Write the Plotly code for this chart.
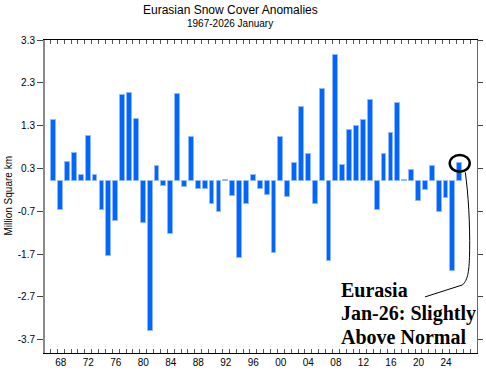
import plotly.graph_objects as go

years = list(range(1967, 2027))
anomalies = [1.43, -0.66, 0.46, 0.66, 0.14, 1.05, 0.14, -0.68, -1.74, -0.93,
             2.02, 2.06, 1.46, -0.98, -3.50, 0.35, -0.10, -1.22, 2.05, -0.14,
             1.04, -0.17, -0.17, -0.52, -0.72, 0.02, -0.34, -1.78, -0.52, 0.14,
             -0.18, -0.32, -1.68, 1.04, -0.36, 0.42, 1.74, 0.63, -0.54, 2.16,
             -1.86, 2.95, 0.38, 1.20, 1.28, 1.44, 1.91, -0.66, 0.64, 1.12,
             1.82, 0.02, 0.26, -0.46, -0.20, 0.35, -0.72, -0.40, -2.09, 0.42]
y_ticks = [-3.7, -2.7, -1.7, -0.7, 0.3, 1.3, 2.3, 3.3]
x_label_years = list(range(1968, 2025, 4))
x_labels = [f"{y % 100:02d}" for y in x_label_years]
minor_ticks = [y + 0.5 for y in range(1966, 2028)]

XR = [1965.72, 2028.51]
YR = [-4.01, 3.3]
FONT = "Liberation Sans, Arial, sans-serif"

fig = go.Figure()
fig.add_trace(go.Bar(x=years, y=anomalies, width=0.7,
                     marker=dict(color="#0066FF", line=dict(color="#8FB8FF", width=1)),
                     showlegend=False, hoverinfo="x+y"))
# helper invisible trace for mirrored axes
fig.add_trace(go.Scatter(x=[years[0]], y=[anomalies[0]], xaxis="x2", yaxis="y2",
                         mode="markers", marker=dict(opacity=0), showlegend=False,
                         hoverinfo="skip"))

fig.update_layout(
    width=486, height=372,
    margin=dict(l=45, r=9, t=40, b=19, autoexpand=False),
    paper_bgcolor="white", plot_bgcolor="white",
    font=dict(family=FONT, size=10, color="#000"),
    bargap=0,
    xaxis=dict(range=XR, tickvals=x_label_years, ticktext=x_labels, ticks="",
               automargin=False,
               showgrid=False, zeroline=False, showline=True, linecolor="#000", linewidth=1,
               minor=dict(tickvals=minor_ticks, ticks="inside", ticklen=4, tickcolor="#555",
                          tickwidth=1, showgrid=False),
               tickfont=dict(size=10, family=FONT, color="#000")),
    xaxis2=dict(range=XR, overlaying="x", side="top", matches="x", tickvals=minor_ticks,
                automargin=False,
                ticks="inside", ticklen=4, tickcolor="#555", showticklabels=False,
                showgrid=False, zeroline=False, showline=True, linecolor="#000", linewidth=1),
    yaxis=dict(range=YR, tickvals=y_ticks, ticktext=[f"{v:.1f}" for v in y_ticks],
               automargin=False,
               ticks="outside", ticklen=6, tickcolor="#444", showgrid=False, zeroline=False,
               showline=True, linecolor="#8a8a8a", linewidth=2,
               tickfont=dict(size=10, family=FONT, color="#000")),
    yaxis2=dict(range=YR, overlaying="y", side="right", matches="y", tickvals=y_ticks,
                automargin=False,
                ticks="outside", ticklen=5, tickcolor="#444", showticklabels=False,
                showgrid=False, zeroline=False, showline=True, linecolor="#666", linewidth=1),
)

PW, PH = 432, 313
# Titles
fig.add_annotation(text="Eurasian Snow Cover Anomalies", xref="paper", yref="paper",
                   x=(230 - 45) / PW, y=1 + (40 - 10) / PH, xanchor="center", yanchor="middle",
                   showarrow=False, font=dict(size=12, family=FONT, color="#000"))
fig.add_annotation(text="1967-2026 January", xref="paper", yref="paper",
                   x=(230 - 45) / PW, y=1 + (40 - 23) / PH, xanchor="center", yanchor="middle",
                   showarrow=False, font=dict(size=10, family=FONT, color="#000"))
# Y axis title
fig.add_annotation(text="Million Square km", xref="paper", yref="paper",
                   x=(8 - 45) / PW, y=0.5, xanchor="center", yanchor="middle",
                   textangle=-90, showarrow=False, font=dict(size=10, family=FONT, color="#000"))

# Circle around latest bar
cx, cy = years[-1], anomalies[-1]
fig.add_shape(type="circle", xref="x", yref="y",
              x0=cx - 1.45, x1=cx + 1.45, y0=cy - 0.195, y1=cy + 0.195,
              line=dict(color="#000", width=2.5))
# Curved connector line
fig.add_shape(type="path", xref="x", yref="y",
              path="M 2026.81,0.21 C 2027.25,-0.3 2027.5,-1.0 2027.44,-1.61 "
                   "C 2027.4,-2.1 2027.2,-2.3 2026.4,-2.42 L 2020.95,-2.70",
              line=dict(color="#000", width=1))

serif = "Liberation Serif, Times New Roman, serif"
for i, line in enumerate(["Eurasia", "Jan-26: Slightly", "Above Normal"]):
    fig.add_annotation(text=f"<b>{line}</b>", xref="x", yref="paper",
                       x=2008.5, y=(353 - (290 + 23.5 * i)) / PH,
                       xanchor="left", yanchor="middle", showarrow=False,
                       font=dict(size=20, family=serif, color="#000"))

fig.write_html("out.html", config={"displayModeBar": False},
               post_script="document.body.style.margin='0';document.body.style.overflow='hidden';")
